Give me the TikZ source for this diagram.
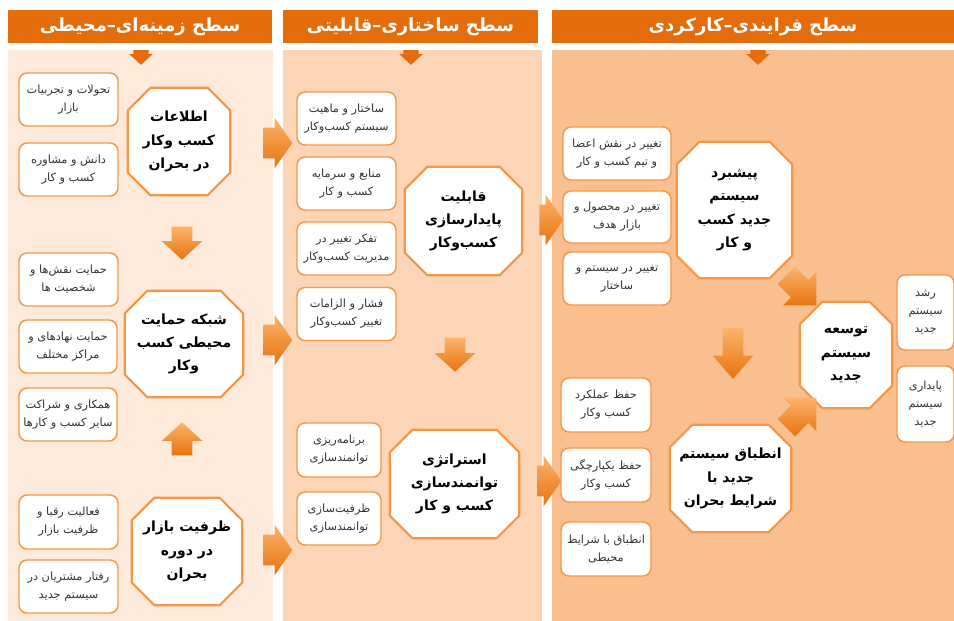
\documentclass[tikz,border=0pt]{standalone}
\usepackage{fontspec}
\newfontfamily\fa[Script=Arabic]{DejaVu Sans}
\TeXXeTstate=1
\usetikzlibrary{shapes.arrows,backgrounds}
\definecolor{hdr}{HTML}{E46C0A}
\definecolor{pA}{HTML}{FDEADA}
\definecolor{pB}{HTML}{FBD5B5}
\definecolor{pC}{HTML}{F9BF8F}
\definecolor{bord}{HTML}{F79646}
\definecolor{arL}{HTML}{FBB36B}
\definecolor{arD}{HTML}{E8730F}
\newcommand\rl[1]{\beginR#1\endR}
\newdimen\octcut \octcut=17pt
\newcommand\octo[1]{%
  \filldraw[octline] ([xshift=\octcut]#1.north west) -- ([xshift=-\octcut]#1.north east)
   -- ([yshift=-\octcut]#1.north east) -- ([yshift=\octcut]#1.south east)
   -- ([xshift=-\octcut]#1.south east) -- ([xshift=\octcut]#1.south west)
   -- ([yshift=\octcut]#1.south west) -- ([yshift=-\octcut]#1.north west) -- cycle;}
\tikzset{
 sz/.style 2 args={minimum width=#1*0.75pt, minimum height=#2*0.75pt},
 sbox/.style={draw=bord, fill=white, line width=1.1pt, rounded corners=6pt, align=center,
   inner sep=1pt, font=\fa\fontsize{8.5}{13.5}\selectfont, text=black!80},
 obox/.style={align=center, inner sep=0pt, font=\fa\bfseries\fontsize{10.5}{17.5}\selectfont},
 octline/.style={draw=bord, fill=white, line width=1.6pt, line join=round},
 hbox/.style={fill=hdr, text=white, font=\fa\bfseries\fontsize{13.5}{15}\selectfont, inner sep=0pt},
 barrow/.style={single arrow, draw=none, top color=arL, bottom color=arD, inner xsep=0pt},
 rarr/.style={barrow, inner ysep=11.25pt, single arrow head extend=7.5pt, minimum height=21.75pt, single arrow tip angle=110},
 varr/.style={barrow, inner ysep=7.5pt, single arrow head extend=7.5pt, minimum height=#1*0.75pt, single arrow tip angle=95},
 darr/.style={barrow, inner ysep=9pt, single arrow head extend=8.5pt, minimum height=32pt, single arrow tip angle=90},
 harr/.style={single arrow, draw=none, fill=hdr, inner xsep=0pt, inner ysep=5.5pt, single arrow head extend=3pt, minimum height=11pt, single arrow tip angle=95, rotate=-90}
}
\begin{document}
\begin{tikzpicture}[x=0.75pt, y=-0.75pt]
\useasboundingbox (0,0) rectangle (954,621);
\begin{scope}[on background layer]
  \fill[white] (0,0) rectangle (954,621);
  \fill[pA] (8,50) rectangle (273,621);
  \fill[pB] (283,50) rectangle (542,621);
  \fill[pC] (552,50) rectangle (954,621);
\end{scope}

% headers
\node[hbox, sz={264}{33}] (h1) at (140,26.5) {\rl{سطح زمینه‌ای–محیطی}};
\node[hbox, sz={255}{33}] (h2) at (410.5,26.5) {\rl{سطح ساختاری–قابلیتی}};
\node[hbox, sz={402}{33}] (h3) at (753,26.5) {\rl{سطح فرایندی–کارکردی}};
\node[harr] (t1) at (141,54) {};
\node[harr] (t2) at (411,54) {};
\node[harr] (t3) at (758,54) {};

% panel 1
\node[sbox, sz={99}{53}] (b11) at (68.5,99.5) {\rl{تحولات و تجربیات}\\\rl{بازار}};
\node[sbox, sz={99}{53}] (b12) at (68.5,169.5) {\rl{دانش و مشاوره}\\\rl{کسب و کار}};
\node[sbox, sz={99}{53}] (b13) at (68.5,279.5) {\rl{حمایت نقش‌ها و}\\\rl{شخصیت ها}};
\node[sbox, sz={98}{53}] (b14) at (68,346.5) {\rl{حمایت نهادهای و}\\\rl{مراکز مختلف}};
\node[sbox, sz={98}{53}] (b15) at (68,414.5) {\rl{همکاری و شراکت}\\\rl{سایر کسب و کارها}};
\node[sbox, sz={99}{54}] (b16) at (68.5,522) {\rl{فعالیت رقبا و}\\\rl{ظرفیت بازار}};
\node[sbox, sz={99}{53}] (b17) at (68.5,586.5) {\rl{رفتار مشتریان در}\\\rl{سیستم جدید}};
\node[obox, sz={102}{107}] (o11) at (179,141.5) {\rl{اطلاعات}\\\rl{کسب وکار}\\\rl{در بحران}};
\node[obox, sz={118}{106}] (o12) at (184,344) {\rl{شبکه حمایت}\\\rl{محیطی کسب}\\\rl{وکار}};
\node[obox, sz={110}{107}] (o13) at (187,551.5) {\rl{ظرفیت بازار}\\\rl{در دوره}\\\rl{بحران}};
\node[varr=33, rotate=-90] (d1) at (182,238.5) {};
\node[varr=33, rotate=90] (u1) at (182,443.5) {};

% panel 1 -> 2
\node[rarr] (r1) at (272.5,143) {};
\node[rarr] (r2) at (272.5,340) {};
\node[rarr] (r3) at (272.5,550) {};

% panel 2
\node[sbox, sz={99}{53}] (b21) at (346.5,118.5) {\rl{ساختار و ماهیت}\\\rl{سیستم کسب‌وکار}};
\node[sbox, sz={99}{53}] (b22) at (346.5,183.5) {\rl{منابع و سرمایه}\\\rl{کسب و کار}};
\node[sbox, sz={99}{53}] (b23) at (346.5,248.5) {\rl{تفکر تغییر در}\\\rl{مدیریت کسب‌وکار}};
\node[sbox, sz={99}{53}] (b24) at (346.5,314) {\rl{فشار و الزامات}\\\rl{تغییر کسب‌وکار}};
\node[sbox, sz={84}{54}] (b25) at (339,450) {\rl{برنامه‌ریزی}\\\rl{توانمندسازی}};
\node[sbox, sz={84}{53}] (b26) at (339,518.5) {\rl{ظرفیت‌سازی}\\\rl{توانمندسازی}};
\node[obox, sz={117}{108}] (o21) at (463.5,221) {\rl{قابلیت}\\\rl{پایدارسازی}\\\rl{کسب‌وکار}};
\node[obox, sz={129}{108}] (o22) at (454.5,484) {\rl{استراتژی}\\\rl{توانمندسازی}\\\rl{کسب و کار}};
\node[varr=34, rotate=-90] (d2) at (455,350) {};

% panel 2 -> 3
\node[rarr, minimum height=18pt] (r4) at (546,220) {};
\node[rarr, minimum height=18pt] (r5) at (544,481) {};

% panel 3
\node[sbox, sz={108}{53}] (b31) at (617,153.5) {\rl{تغییر در نقش اعضا}\\\rl{و تیم کسب و کار}};
\node[sbox, sz={108}{52}] (b32) at (617,217) {\rl{تغییر در محصول و}\\\rl{بازار هدف}};
\node[sbox, sz={108}{53}] (b33) at (617,278.5) {\rl{تغییر در سیستم و}\\\rl{ساختار}};
\node[sbox, sz={90}{54}] (b34) at (606,405) {\rl{حفظ عملکرد}\\\rl{کسب وکار}};
\node[sbox, sz={90}{54}] (b35) at (606,475) {\rl{حفظ یکپارچگی}\\\rl{کسب وکار}};
\node[sbox, sz={90}{54}] (b36) at (606,549) {\rl{انطباق با شرایط}\\\rl{محیطی}};
\node[sbox, sz={57}{75}] (b37) at (925.5,312.5) {\rl{رشد}\\\rl{سیستم}\\\rl{جدید}};
\node[sbox, sz={57}{76}] (b38) at (925.5,404) {\rl{پایداری}\\\rl{سیستم}\\\rl{جدید}};
\node[obox, sz={115}{136}] (o31) at (734.5,210) {\rl{پیشبرد}\\\rl{سیستم}\\\rl{جدید کسب}\\\rl{و کار}};
\node[obox, sz={92}{106}] (o33) at (846,355) {\rl{توسعه}\\\rl{سیستم}\\\rl{جدید}};
\node[obox, sz={121}{107}] (o32) at (730.5,478.5) {\rl{انطباق سیستم}\\\rl{جدید با}\\\rl{شرایط بحران}};
\node[varr=51, rotate=-90, single arrow tip angle=82] (d3) at (733,347.5) {};
\node[darr, rotate=-45] (g1) at (797,286) {};
\node[darr, rotate=45] (g2) at (797,417) {};

\begin{scope}[on background layer]
  \octo{o11}\octo{o12}\octo{o13}
  \octo{o21}\octo{o22}
  \octo{o31}\octo{o32}\octo{o33}
\end{scope}
\end{tikzpicture}
\end{document}
